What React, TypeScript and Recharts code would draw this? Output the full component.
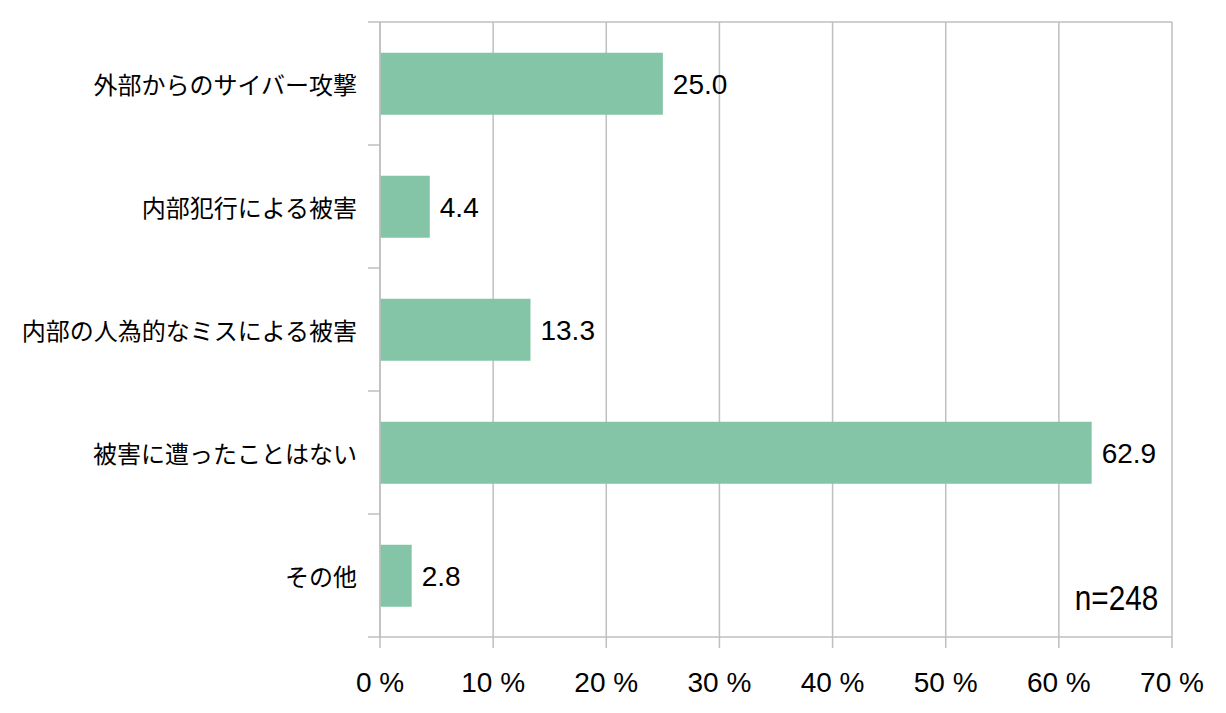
import {
  BarChart,
  Bar,
  XAxis,
  YAxis,
  CartesianGrid,
  LabelList,
} from "recharts";

const categories = [
  "外部からのサイバー攻撃",
  "内部犯行による被害",
  "内部の人為的なミスによる被害",
  "被害に遭ったことはない",
  "その他",
];
const values = [25.0, 4.4, 13.3, 62.9, 2.8];
const xTicks = [0, 10, 20, 30, 40, 50, 60, 70];
const sampleNote = "n=248";

const data = categories.map((name, i) => ({ name, value: values[i] }));

const W = 1226;
const H = 713;
const MARGIN = { top: 22, right: 54, bottom: 0, left: 0 };
const Y_AXIS_W = 380;
const X_AXIS_H = 76;
const PLOT_W = W - MARGIN.right - Y_AXIS_W;
const PLOT_H = H - MARGIN.top - X_AXIS_H;
const TICK_MARGIN = 23;

const GRID = "#bfbfbf";
const SANS = "'Liberation Sans', Arial, sans-serif";
const CJK = "'Noto Sans CJK JP', sans-serif";

// category label, plus the tick marks that sit on the band edges
const CategoryTick = (props: any) => {
  const { x, y, payload, index, visibleTicksCount } = props;
  const half = PLOT_H / visibleTicksCount / 2;
  const axisX = x + TICK_MARGIN;
  const line = { stroke: GRID, strokeWidth: 1.5 };
  return (
    <g>
      <line x1={axisX - 12} x2={axisX} y1={y - half} y2={y - half} {...line} />
      {index === visibleTicksCount - 1 && (
        <line x1={axisX - 12} x2={axisX} y1={y + half} y2={y + half} {...line} />
      )}
      {index === 0 && (
        <line x1={axisX} x2={axisX + PLOT_W} y1={y - half} y2={y - half} {...line} />
      )}
      <text
        x={x}
        y={y}
        textAnchor="end"
        dominantBaseline="central"
        fontSize={24}
        fontFamily={CJK}
        fill="#000"
      >
        {payload.value}
      </text>
    </g>
  );
};

const App = () => {
  return (
    <div style={{ position: "absolute", left: 0, top: 0, width: W, height: H }}>
      <BarChart
        width={W}
        height={H}
        data={data}
        layout="vertical"
        margin={MARGIN}
        barCategoryGap="25%"
      >
        <CartesianGrid vertical horizontal={false} stroke={GRID} strokeWidth={1.5} />
        <XAxis
          type="number"
          domain={[0, 70]}
          ticks={xTicks}
          interval={0}
          tickFormatter={(v) => `${v} %`}
          height={X_AXIS_H}
          tickSize={11}
          tickMargin={24}
          stroke={GRID}
          tickLine={{ stroke: GRID, strokeWidth: 1.5 }}
          axisLine={{ stroke: GRID, strokeWidth: 1.5 }}
          tick={{ fill: "#000", fontSize: 28, fontFamily: SANS }}
        />
        <YAxis
          type="category"
          dataKey="name"
          width={Y_AXIS_W}
          interval={0}
          tickLine={false}
          tickSize={0}
          tickMargin={TICK_MARGIN}
          axisLine={{ stroke: GRID, strokeWidth: 1.5 }}
          tick={<CategoryTick />}
        />
        <Bar dataKey="value" fill="#83c5a6" isAnimationActive={false}>
          <LabelList
            dataKey="value"
            position="right"
            offset={10}
            fill="#000"
            fontSize={28}
            fontFamily={SANS}
            formatter={(v: any) => Number(v).toFixed(1)}
          />
        </Bar>
      </BarChart>
      <div
        style={{
          position: "absolute",
          right: 68,
          top: 580,
          fontSize: 35,
          lineHeight: 1,
          fontFamily: SANS,
          color: "#000",
          transform: "scaleX(0.85)",
          transformOrigin: "right center",
        }}
      >
        {sampleNote}
      </div>
    </div>
  );
};

export default App;
